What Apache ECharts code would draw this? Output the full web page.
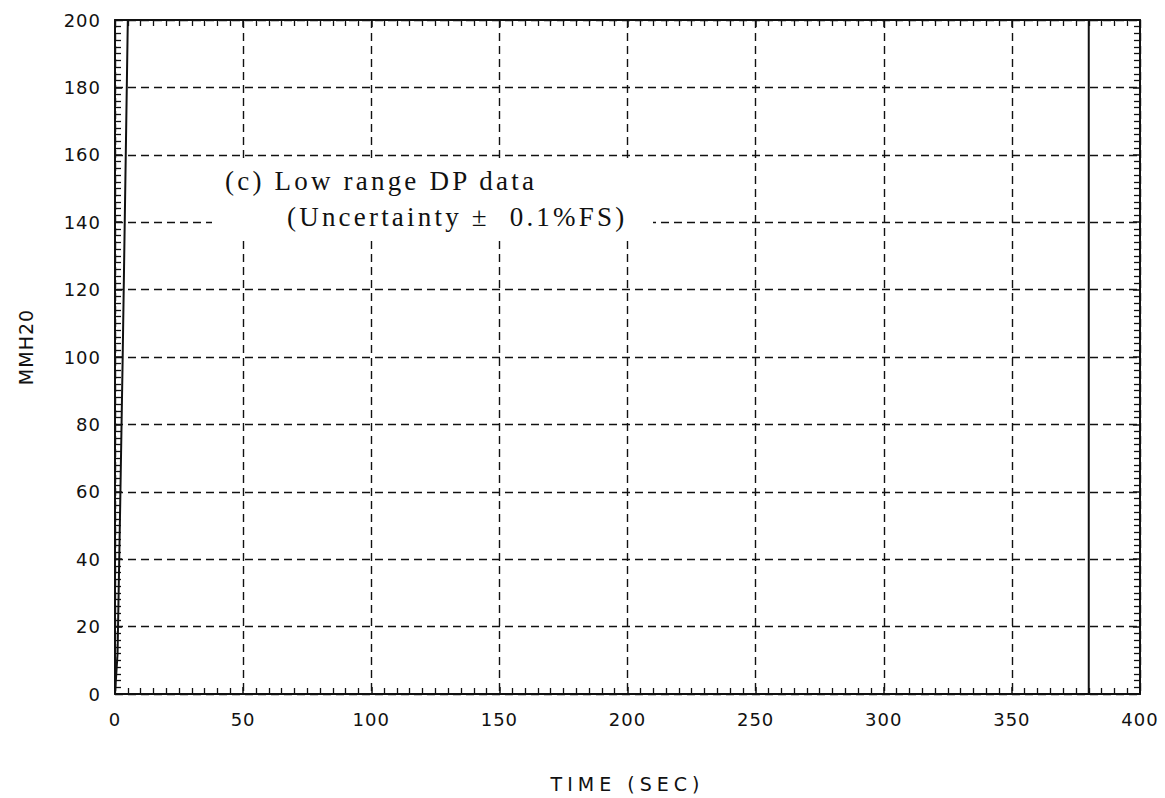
<!DOCTYPE html>
<html>
<head>
<meta charset="utf-8">
<title>Low range DP data</title>
<script src="https://cdn.jsdelivr.net/npm/echarts@6/dist/echarts.min.js"></script>
<style>
  html, body { margin: 0; padding: 0; background: #fff; }
  #chart { width: 1165px; height: 798px; }
  /* plotter-style spacing for the axis lettering */
  #chart svg text { letter-spacing: 1px; }
</style>
</head>
<body>
<div id="chart"></div>
<script>
// Differential pressure trace (low range transmitter), time in seconds
const timeSec = [0, 1, 2, 3, 4, 5, 5.4, 380, 380, 400];
const dpMmH2O = [0, 12, 55, 100, 150, 200, 218, 218, 0, 0];

// Axis ranges and tick labels
const xTickLabels = [0, 50, 100, 150, 200, 250, 300, 350, 400];
const yTickLabels = [0, 20, 40, 60, 80, 100, 120, 140, 160, 180, 200];

const ink = '#111';
const labelFont = 'DejaVu Sans';
const X_TITLE = 'TIME (SEC)';
const Y_TITLE = 'MMH20';
const NOTE_1 = '(c) Low range DP data';
const NOTE_2 = '(Uncertainty \u00b1  0.1%FS)';

const chart = echarts.init(document.getElementById('chart'), null, { renderer: 'svg' });

const frameLine = { show: true, onZero: false, lineStyle: { color: ink, width: 2 } };
const innerTicks = { show: true, inside: true, length: 7, lineStyle: { color: ink, width: 1.5 } };
const innerMinor = { show: true, splitNumber: 10, length: 6, lineStyle: { color: ink, width: 1.3 } };
const dashedGrid = { show: true, lineStyle: { color: ink, width: 1.4, type: [8, 5] } };

chart.setOption({
  animation: false,
  backgroundColor: '#fff',
  grid: { left: 115, right: 25, top: 20, bottom: 101, containLabel: false },
  xAxis: [
    {
      type: 'value', position: 'bottom',
      min: xTickLabels[0], max: xTickLabels[xTickLabels.length - 1], interval: 50,
      name: X_TITLE, nameLocation: 'middle', nameGap: 80,
      nameTextStyle: { color: ink, fontFamily: labelFont, fontSize: 19 },
      axisLine: frameLine, axisTick: innerTicks, minorTick: innerMinor,
      splitLine: dashedGrid,
      axisLabel: { color: ink, fontFamily: labelFont, fontSize: 18, margin: 16 }
    },
    {
      type: 'value', position: 'top',
      min: xTickLabels[0], max: xTickLabels[xTickLabels.length - 1], interval: 50,
      axisLine: frameLine, axisTick: innerTicks, minorTick: innerMinor,
      splitLine: { show: false }, axisLabel: { show: false }
    }
  ],
  yAxis: [
    {
      type: 'value', position: 'left',
      min: yTickLabels[0], max: yTickLabels[yTickLabels.length - 1], interval: 20,
      name: Y_TITLE, nameLocation: 'middle', nameGap: 80,
      nameTextStyle: { color: ink, fontFamily: labelFont, fontSize: 19, padding: [0, 0, 0, 20] },
      axisLine: frameLine, axisTick: innerTicks, minorTick: innerMinor,
      splitLine: dashedGrid,
      axisLabel: { color: ink, fontFamily: labelFont, fontSize: 18, margin: 14 }
    },
    {
      type: 'value', position: 'right',
      min: yTickLabels[0], max: yTickLabels[yTickLabels.length - 1], interval: 20,
      axisLine: frameLine, axisTick: innerTicks, minorTick: innerMinor,
      splitLine: { show: false }, axisLabel: { show: false }
    }
  ],
  series: [
    {
      type: 'line',
      xAxisIndex: 0, yAxisIndex: 0,
      data: timeSec.map((t, i) => [t, dpMmH2O[i]]),
      showSymbol: false,
      clip: true,
      lineStyle: { color: ink, width: 2 },
      z: 3
    }
  ],
  graphic: [
    {
      type: 'rect', z: 50,
      shape: { x: 212, y: 163, width: 441, height: 75 },
      style: { fill: '#fff' }
    },
    {
      type: 'text', z: 51, left: 225, top: 167,
      style: { text: NOTE_1, fill: ink, fontFamily: 'Liberation Serif', fontSize: 27 }
    },
    {
      type: 'text', z: 51, left: 287, top: 203,
      style: { text: NOTE_2, fill: ink, fontFamily: 'Liberation Serif', fontSize: 27 }
    }
  ]
});

// Tracking: wide for the axis title, typewriter pitch for the note
document.querySelectorAll('#chart svg text').forEach(function (el) {
  const s = el.textContent;
  if (s === X_TITLE) el.style.letterSpacing = '5px';
  else if (s === Y_TITLE) el.style.letterSpacing = '1px';
  else if (s === NOTE_1 || s === NOTE_2) el.style.letterSpacing = '3.2px';
});
</script>
</body>
</html>
